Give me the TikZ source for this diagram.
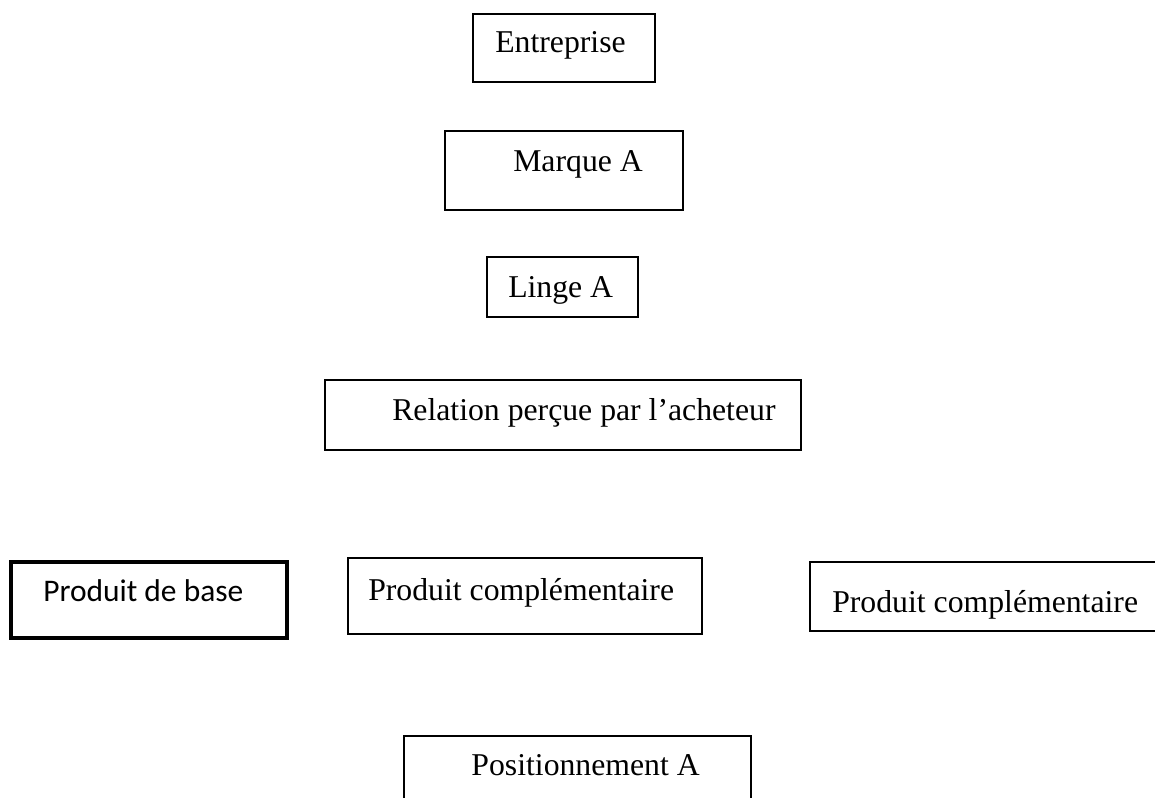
\documentclass[tikz,border=0pt]{standalone}
\usepackage{fontspec}
\setmainfont{Liberation Serif}
\newfontfamily\calibrilike{Carlito}
\usetikzlibrary{fit}

\tikzset{
  box/.style={draw=black, line width=1.6pt, inner sep=0pt, rectangle},
  thickbox/.style={box, line width=2.3pt},
  label/.style={inner sep=0pt, font=\fontsize{23.8}{28}\selectfont, text=black},
  sanslabel/.style={label, font=\calibrilike\fontsize{23.6}{28}\selectfont}
}

\begin{document}
\begin{tikzpicture}[x=0.75pt, y=-0.75pt]
  \useasboundingbox (0,0) rectangle (1155,798);
  \clip (0,0) rectangle (1155,798);
  \fill[white] (0,0) rectangle (1155,798);

  % company, brand and line
  \node[box, fit={(473,14) (655,82)}] (entreprise) {};
  \node[label, anchor=base west] (tEntreprise) at (495,53) {Entreprise};

  \node[box, fit={(445,131) (683,210)}] (marque) {};
  \node[label, anchor=base west] (tMarque) at (513,172) {Marque A};

  \node[box, fit={(487,257) (638,317)}] (linge) {};
  \node[label, anchor=base west] (tLinge) at (508,297) {Linge A};

  % perceived relation
  \node[box, fit={(325,380) (801,450)}] (relation) {};
  \node[label, anchor=base west] (tRelation) at (392,420) {Relation perçue par l’acheteur};

  % products
  \node[thickbox, fit={(11,562) (287,638)}] (base) {};
  \node[sanslabel, anchor=base west] (tBase) at (43,601) {Produit de base};

  \node[box, fit={(348,558) (702,634)}] (compA) {};
  \node[label, anchor=base west] (tCompA) at (368,600) {Produit complémentaire};

  \node[box, fit={(810,562) (1178,631)}] (compB) {};
  \node[label, anchor=base west] (tCompB) at (832,612) {Produit complémentaire};

  % positioning
  \node[box, fit={(404,736) (751,830)}] (position) {};
  \node[label, anchor=base east] (tPosition) at (700,775) {Positionnement A};
\end{tikzpicture}
\end{document}
